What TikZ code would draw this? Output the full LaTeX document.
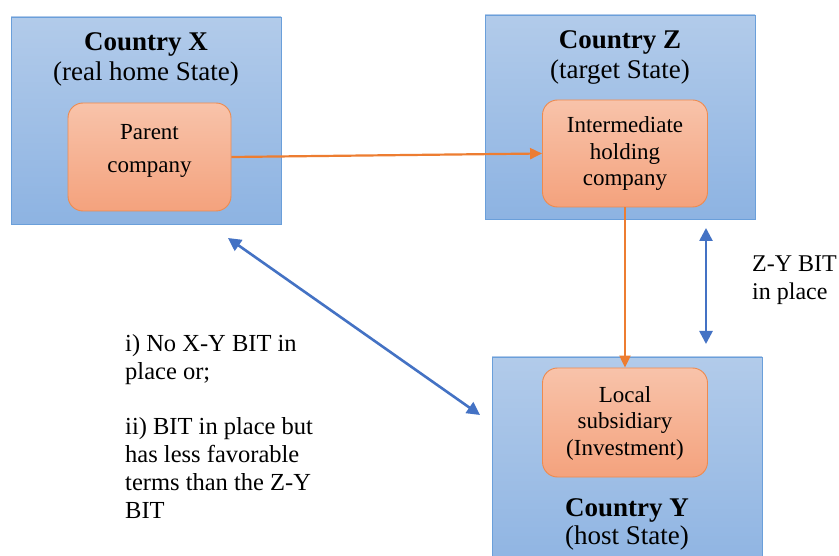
\documentclass[tikz,border=0pt]{standalone}
\usepackage{fontspec}
\setmainfont{Liberation Serif}
\usetikzlibrary{arrows.meta}
\definecolor{bxtop}{HTML}{B2CBEA}
\definecolor{bxbot}{HTML}{8DB3E2}
\definecolor{bxline}{HTML}{6A9FDA}
\definecolor{ortop}{HTML}{F8C3AA}
\definecolor{orbot}{HTML}{F4A27D}
\definecolor{orline}{HTML}{EE8A4E}
\definecolor{orarrow}{HTML}{ED7D31}
\definecolor{blarrow}{HTML}{4472C4}
\begin{document}
\begin{tikzpicture}[x=1pt,y=-1pt,
  country/.style={draw=bxline,line width=0.9pt,top color=bxtop,bottom color=bxbot,rectangle,inner sep=0pt},
  firm/.style={draw=orline,line width=0.9pt,top color=ortop,bottom color=orbot,rectangle,rounded corners=15pt,inner sep=0pt},
  titletxt/.style={font=\fontsize{27}{30}\selectfont,align=center,inner sep=0pt,anchor=base},
  firmtxt/.style={font=\fontsize{23}{26.5}\selectfont,align=center,inner sep=0pt,anchor=base},
  sidetxt/.style={font=\fontsize{24.5}{28}\selectfont,align=left,inner sep=0pt,anchor=base west},
  orarr/.style={draw=orarrow,line width=2.2pt,-{Triangle[length=12pt,width=11pt]}},
  blarr/.style={draw=blarrow,line width=2.6pt,{Triangle[length=13pt,width=13pt]}-{Triangle[length=13pt,width=13pt]}}]
\clip (0,0) rectangle (839,556);
\fill[white] (0,0) rectangle (839,556);
% country boxes
\node[country,minimum width=270pt,minimum height=207pt] (X) at (146,120.5) {};
\node[country,minimum width=270pt,minimum height=204pt] (Z) at (620,117) {};
\node[country,minimum width=270pt,minimum height=220pt] (Y) at (627,467) {};
% firm boxes
\node[firm,minimum width=163pt,minimum height=108pt] (P) at (149.5,157) {};
\node[firm,minimum width=165pt,minimum height=107pt] (I) at (625,153.5) {};
\node[firm,minimum width=165pt,minimum height=109pt] (L) at (625,422.5) {};
% titles (anchor = baseline of last line)
\node[titletxt] (Xt) at (146,81) {\textbf{Country X}\\(real home State)};
\node[titletxt] (Zt) at (620,79) {\textbf{Country Z}\\(target State)};
\node[titletxt] (Yt) at (627,544) {\textbf{Country Y}\\[-2pt](host State)};
% firm texts
\node[firmtxt] (Pt) at (149.5,173) {Parent\\[7pt]company};
\node[firmtxt] (It) at (625,186) {Intermediate\\holding\\company};
\node[firmtxt] (Lt) at (625,455) {Local\\subsidiary\\(Investment)};
% side texts
\node[sidetxt] (S1) at (125,518) {i) No X-Y BIT in\\place or;\\[27pt]ii) BIT in place but\\has less favorable\\terms than the Z-Y\\BIT};
\node[sidetxt,font=\fontsize{24}{28}\selectfont] (S2) at (752,300) {Z-Y BIT\\in place};
% ownership arrows
\draw[orarr] (P.east) -- (I.west);
\draw[orarr] (I.south) -- (L.north);
% BIT arrows
\coordinate (a1) at (228,238);
\coordinate (a2) at (480,415);
\coordinate (b1) at (706,228);
\coordinate (b2) at (706,344);
\draw[blarr] (a1) -- (a2);
\draw[blarr] (b1) -- (b2);
\end{tikzpicture}
\end{document}
